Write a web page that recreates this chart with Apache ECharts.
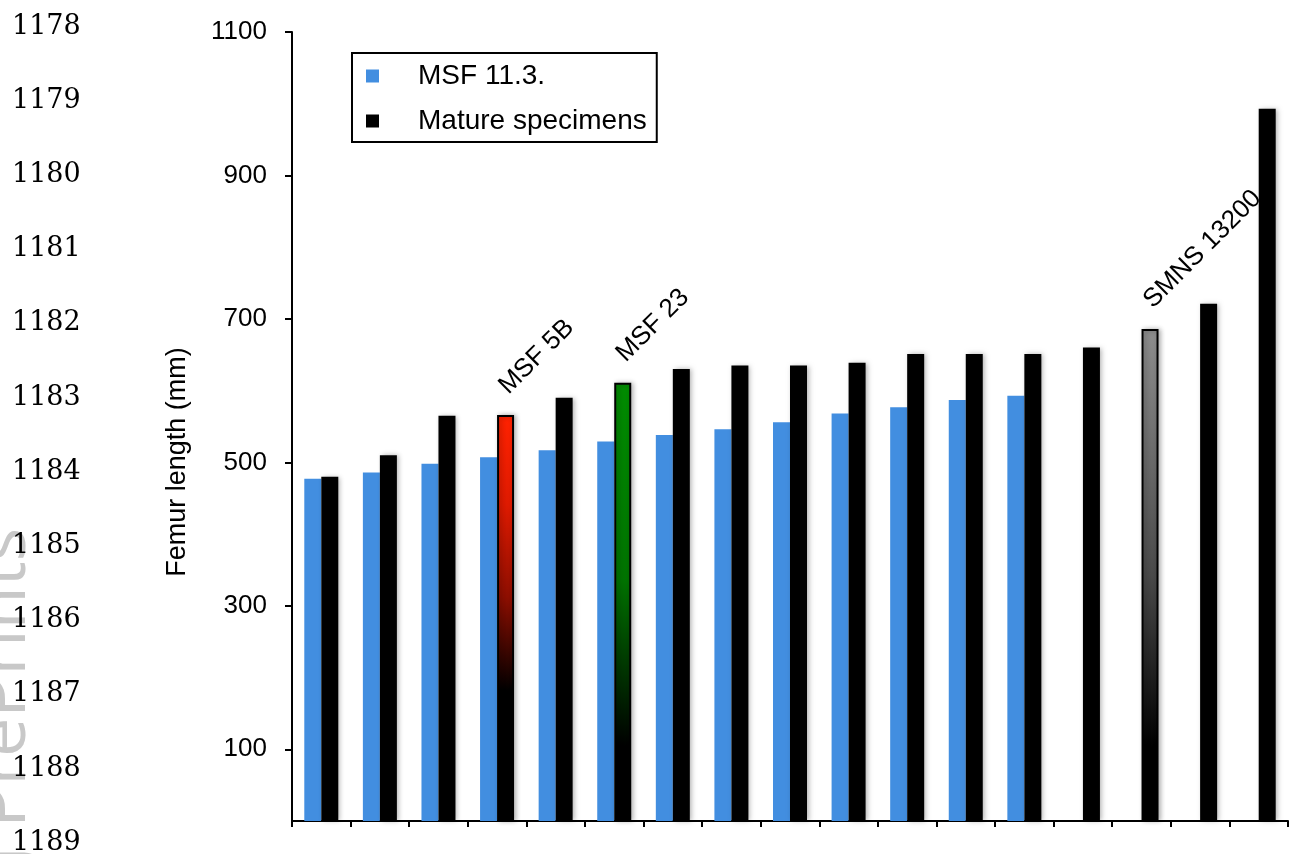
<!DOCTYPE html>
<html>
<head>
<meta charset="utf-8">
<script src="https://cdn.jsdelivr.net/npm/echarts@6/dist/echarts.min.js"></script>
<style>
  html, body { margin: 0; padding: 0; background: #fff; }
  #femurChart { width: 1293px; height: 854px; }
</style>
</head>
<body>
<div id="femurChart"></div>
<script>
const categories = ['1', '2', '3', '4', '5', '6', '7', '8', '9', '10', '11', '12', '13', '14', '15', '16', '17'];
const msfValues = [477, 486, 498, 507, 517, 529, 538, 546, 556, 568, 577, 587, 593, '-', '-', '-', '-'];
const matureValues = [480, 510, 565, 566, 590, 611, 630, 635, 635, 639, 651, 651, 651, 660, 686, 721, 993];
const specimenNames = ['', '', '', 'MSF 5B', '', 'MSF 23', '', '', '', '', '', '', '', '', 'SMNS 13200', '', ''];
const yTicks = [100, 300, 500, 700, 900, 1100];
const lineNumbers = ['1178', '1179', '1180', '1181', '1182', '1183', '1184', '1185', '1186', '1187', '1188', '1189'];

const SANS = '"Liberation Sans", Arial, sans-serif';

// gradient fills for the named specimens (colour at top fading to black)
const namedFill = {
  'MSF 5B': [[0, '#ff2200'], [0.22, '#de1a00'], [0.45, '#8c0e00'], [0.68, '#000000'], [1, '#000000']],
  'MSF 23': [[0, '#008c00'], [0.45, '#007200'], [0.83, '#000000'], [1, '#000000']],
  'SMNS 13200': [[0, '#8e8e8e'], [0.5, '#4a4a4a'], [0.85, '#000000'], [1, '#000000']],
};

const matureData = matureValues.map((v, i) => {
  const name = specimenNames[i];
  if (!name) return v;
  return {
    value: v,
    itemStyle: {
      color: new echarts.graphic.LinearGradient(0, 0, 0, 1,
        namedFill[name].map(s => ({ offset: s[0], color: s[1] }))),
      borderColor: '#000',
      borderWidth: 2,
    },
    label: {
      show: true,
      formatter: name,
      position: 'top',
      distance: 30,
      rotate: 45,
      align: 'left',
      verticalAlign: 'middle',
      offset: [-5, 2],
      fontFamily: SANS,
      fontSize: 26,
      color: '#000',
    },
  };
});

const graphics = lineNumbers.map((t, i) => ({
  type: 'text',
  left: 12,
  top: 24 + i * 74.2 - 11,
  silent: true,
  style: { text: t, font: '27px "DejaVu Serif", serif', fill: '#000' },
}));

graphics.push({
  type: 'text',
  x: 40,
  y: 528,
  rotation: Math.PI / 2,
  silent: true,
  z: -1,
  style: {
    text: 'PeerJ PrePrints',
    font: '70px "Open Sans", sans-serif',
    fill: '#c8c8c8',
    align: 'right',
    verticalAlign: 'bottom',
  },
});

graphics.push({
  type: 'text',
  x: 178,
  y: 462,
  rotation: Math.PI / 2,
  silent: true,
  style: {
    text: 'Femur length (mm)',
    font: '27px ' + SANS,
    fill: '#000',
    align: 'center',
    verticalAlign: 'middle',
  },
});

const myChart = echarts.init(document.getElementById('femurChart'));
const option = {
  animation: false,
  backgroundColor: '#fff',
  grid: { left: 292, right: 5, top: 32, bottom: 33, containLabel: false },
  legend: {
    left: 352,
    top: 53,
    orient: 'vertical',
    icon: 'rect',
    itemWidth: 13,
    itemHeight: 13,
    itemGap: 15,
    padding: [8, 10, 6, 14],
    borderColor: '#000',
    borderWidth: 2,
    textStyle: {
      fontFamily: SANS,
      fontSize: 28,
      lineHeight: 30,
      color: '#000',
      padding: [0, 0, 0, 34],
    },
    data: ['MSF 11.3.', 'Mature specimens'],
  },
  xAxis: {
    type: 'category',
    data: categories,
    boundaryGap: true,
    axisLine: { lineStyle: { color: '#000', width: 2 } },
    axisTick: { show: true, length: 6, lineStyle: { color: '#000', width: 2 } },
    axisLabel: { show: false },
    splitLine: { show: false },
  },
  yAxis: {
    type: 'value',
    min: 0,
    max: 1100,
    axisLine: { show: true, lineStyle: { color: '#000', width: 2 } },
    axisTick: { show: true, length: 7, customValues: yTicks, lineStyle: { color: '#000', width: 2 } },
    axisLabel: {
      customValues: yTicks,
      formatter: v => String(v),
      margin: 25,
      fontFamily: SANS,
      fontSize: 26,
      color: '#000',
    },
    splitLine: { show: false },
  },
  series: [
    {
      name: 'MSF 11.3.',
      type: 'bar',
      data: msfValues,
      barWidth: 17,
      barGap: '0%',
      itemStyle: { color: '#428ee0' },
    },
    {
      name: 'Mature specimens',
      type: 'bar',
      data: matureData,
      barWidth: 17,
      itemStyle: {
        color: '#000',
        shadowBlur: 5,
        shadowColor: 'rgba(0,0,0,0.3)',
        shadowOffsetX: 2,
      },
    },
  ],
  graphic: graphics,
};
myChart.setOption(option);
</script>
</body>
</html>
